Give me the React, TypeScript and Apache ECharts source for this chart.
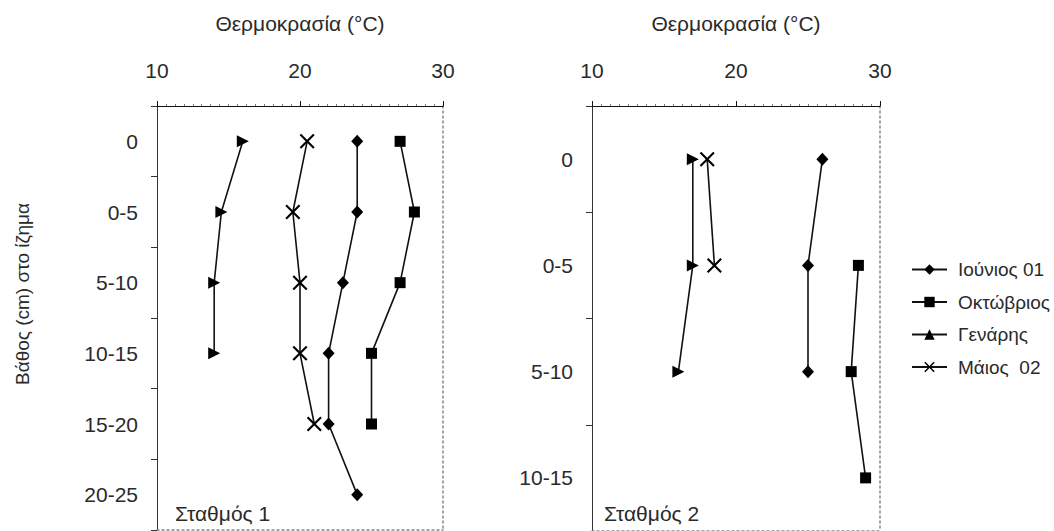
import React, { useEffect, useRef } from 'react';
import * as echarts from 'echarts';

const depth1 = ['0', '0-5', '5-10', '10-15', '15-20', '20-25'];
const depth2 = ['0', '0-5', '5-10', '10-15'];
const seriesNames = ['Ιούνιος 01', 'Οκτώβριος', 'Γενάρης', 'Μάιος  02'];

// Station 1
const june1 = [24, 24, 23, 22, 22, 24];
const oct1 = [27, 28, 27, 25, 25, null];
const jan1 = [16, 14.5, 14, 14, null, null];
const may1 = [20.5, 19.5, 20, 20, 21, null];

// Station 2
const june2 = [26, 25, 25, null];
const oct2 = [null, 28.5, 28, 29];
const jan2 = [17, 17, 16, null];
const may2 = [18, 18.5, null, null];

const xMin = 10;
const xMax = 30;
const xStep = 10;

const FONT = 'Liberation Sans, Arial, sans-serif';
const TXT = '#2a2a2a';
const X_PATH = 'path://M0,1 L1,0 L5,4 L9,0 L10,1 L6,5 L10,9 L9,10 L5,6 L1,10 L0,9 L4,5 Z';

const markers = [
  { symbol: 'diamond', symbolSize: [12, 13], symbolRotate: 0 },
  { symbol: 'rect', symbolSize: 11, symbolRotate: 0 },
  { symbol: 'triangle', symbolSize: 12, symbolRotate: -90 },
  { symbol: X_PATH, symbolSize: 15, symbolRotate: 0 },
];

function topAxis(gridIndex: number) {
  return {
    type: 'value',
    gridIndex,
    position: 'top',
    min: xMin,
    max: xMax,
    interval: xStep,
    name: 'Θερμοκρασία (°C)',
    nameLocation: 'middle',
    nameGap: 72,
    nameTextStyle: { fontFamily: FONT, fontSize: 21, color: TXT },
    axisLine: { show: true, lineStyle: { color: '#111', width: 1 } },
    axisTick: { show: true, length: 5, lineStyle: { color: '#111' } },
    minorTick: { show: true, splitNumber: 16, length: 2, lineStyle: { color: '#777' } },
    axisLabel: { fontFamily: FONT, fontSize: 21, color: TXT, margin: 25 },
    splitLine: { show: false },
  };
}

function bottomAxis(gridIndex: number) {
  return {
    type: 'value',
    gridIndex,
    position: 'bottom',
    min: xMin,
    max: xMax,
    interval: xStep,
    axisLine: { show: true, lineStyle: { color: '#888', type: [2, 3], width: 1.5 } },
    axisTick: { show: false },
    axisLabel: { show: false },
    splitLine: { show: false },
  };
}

function leftAxis(gridIndex: number, data: string[]) {
  return {
    type: 'category',
    gridIndex,
    position: 'left',
    inverse: true,
    data,
    boundaryGap: true,
    axisLine: { show: true, lineStyle: { color: '#333', width: 1 } },
    axisTick: { show: true, length: 6, lineStyle: { color: '#333' } },
    axisLabel: { fontFamily: FONT, fontSize: 21, color: TXT, margin: 19 },
    splitLine: { show: false },
  };
}

function rightAxis(gridIndex: number, data: string[]) {
  return {
    type: 'category',
    gridIndex,
    position: 'right',
    inverse: true,
    data,
    axisLine: { show: true, lineStyle: { color: '#888', type: [2, 3], width: 1.5 } },
    axisTick: { show: false },
    axisLabel: { show: false },
    splitLine: { show: false },
  };
}

function makeSeries(name: string, data: (number | null)[], idx: number, axisIdx: number) {
  const m = markers[idx];
  return {
    type: 'line',
    name,
    data,
    xAxisIndex: axisIdx,
    yAxisIndex: axisIdx,
    symbol: m.symbol,
    symbolSize: m.symbolSize,
    symbolRotate: m.symbolRotate,
    showSymbol: true,
    lineStyle: { color: '#111', width: 1.6 },
    itemStyle: { color: '#000' },
    emphasis: { disabled: true },
  };
}

export default function App() {
  const ref = useRef<HTMLDivElement>(null);
  useEffect(() => {
    if (!ref.current) return;
    const chart = echarts.init(ref.current, null, { renderer: 'svg' });
    const s1 = [june1, oct1, jan1, may1];
    const s2 = [june2, oct2, jan2, may2];
    const series: any[] = [];
    seriesNames.forEach((n, i) => series.push(makeSeries(n, s1[i], i, 0)));
    seriesNames.forEach((n, i) => series.push(makeSeries(n, s2[i], i, 2)));
    chart.setOption({
      animation: false,
      backgroundColor: '#fff',
      textStyle: { fontFamily: FONT },
      grid: [
        { left: 157, top: 106, width: 286, height: 424 },
        { left: 592, top: 106, width: 288, height: 427 },
      ],
      xAxis: [topAxis(0), bottomAxis(0), topAxis(1), bottomAxis(1)],
      yAxis: [leftAxis(0, depth1), rightAxis(0, depth1), leftAxis(1, depth2), rightAxis(1, depth2)],
      legend: {
        data: seriesNames,
        orient: 'vertical',
        left: 911,
        top: 260,
        padding: 0,
        itemWidth: 35,
        itemHeight: 13,
        itemGap: 13.5,
        symbolRotate: 0,
        textStyle: { fontFamily: FONT, fontSize: 19, color: TXT, padding: [0, 0, 0, 6] },
        selectedMode: false,
      },
      graphic: [
        {
          type: 'text',
          x: 22,
          y: 294,
          rotation: Math.PI / 2,
          style: {
            text: 'Βάθος (cm) στο ίζημα',
            fontFamily: FONT,
            fontSize: 19,
            fill: TXT,
            align: 'center',
            verticalAlign: 'middle',
          },
        },
        {
          type: 'text',
          x: 175,
          y: 513,
          style: { text: 'Σταθμός 1', fontFamily: FONT, fontSize: 21, fill: TXT, verticalAlign: 'middle' },
        },
        {
          type: 'text',
          x: 604,
          y: 513,
          style: { text: 'Σταθμός 2', fontFamily: FONT, fontSize: 21, fill: TXT, verticalAlign: 'middle' },
        },
      ],
      series,
    });
    return () => chart.dispose();
  }, []);
  return <div ref={ref} style={{ position: 'fixed', left: 0, top: 0, width: 1054, height: 531 }} />;
}
